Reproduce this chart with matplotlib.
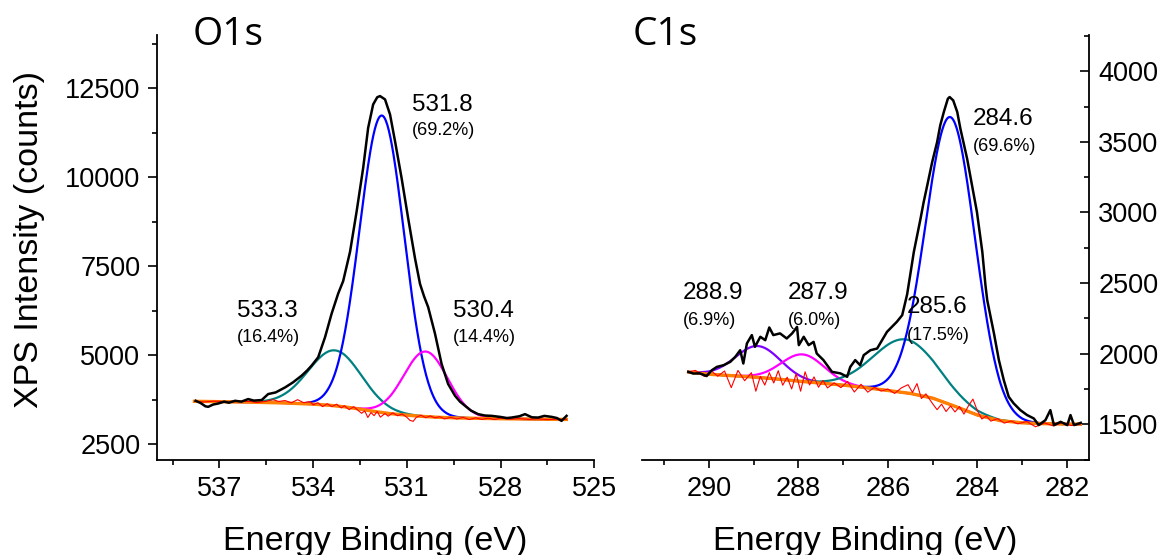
import numpy as np
import matplotlib
matplotlib.use("Agg")
import matplotlib.pyplot as plt
from matplotlib.ticker import MultipleLocator

plt.rcParams['font.family'] = ['Liberation Sans', 'DejaVu Sans']

# ---------------- O1s region ----------------
o_raw_e = [537.76, 537.6, 537.45, 537.36, 537.2, 537.04, 536.85, 536.7, 536.5, 536.3,
           536.08, 535.9, 535.65, 535.44, 535.2, 534.9, 534.65, 534.37, 534.2, 534.05,
           533.84, 533.62, 533.41, 533.2, 533.04, 532.82, 532.61, 532.4, 532.24, 532.08,
           531.95, 531.86, 531.7, 531.54, 531.38, 531.17, 530.96, 530.74, 530.58, 530.45,
           530.32, 530.1, 529.89, 529.68, 529.46, 529.3, 529.14, 528.95, 528.72, 528.5,
           528.29, 528.0, 527.8, 527.65, 527.4, 527.22, 527.0, 526.8, 526.6, 526.37,
           526.2, 526.05, 525.89]
o_raw_counts = [3715, 3650, 3560, 3545, 3610, 3638, 3690, 3660, 3715, 3690,
                3763, 3720, 3735, 3904, 3950, 4090, 4230, 4421, 4560, 4704,
                4938, 5503, 6164, 6729, 7080, 7904, 9034, 10260, 11390, 12048,
                12250, 12283, 12190, 11766, 11012, 9978, 8848, 7718, 7000, 6650,
                6350, 5599, 4752, 4186, 3856, 3690, 3574, 3440, 3339, 3300,
                3291, 3260, 3230, 3243, 3280, 3339, 3250, 3243, 3290, 3263,
                3230, 3150, 3291]

o_bg_e = [537.8, 537.0, 536.0, 535.0, 534.0, 533.5, 533.0, 532.5, 532.0, 531.5,
          531.0, 530.5, 530.0, 529.5, 529.0, 528.0, 527.0, 526.0, 525.9]
o_bg_counts = [3700, 3690, 3675, 3655, 3620, 3590, 3545, 3480, 3410, 3350,
               3310, 3275, 3250, 3235, 3225, 3210, 3200, 3190, 3190]

o_res_e = [537.8, 537.5, 537.2, 537.0, 536.7, 536.4, 536.0, 535.8, 535.5, 535.3,
           535.1, 534.9, 534.7, 534.5, 534.3, 534.1, 534.0, 533.85, 533.7, 533.55,
           533.4, 533.25, 533.1, 533.0, 532.85, 532.7, 532.6, 532.45, 532.35, 532.25,
           532.15, 532.05, 531.95, 531.85, 531.7, 531.6, 531.45, 531.3, 531.15, 531.0,
           530.9, 530.8, 530.7, 530.55, 530.4, 530.25, 530.1, 529.95, 529.8, 529.6,
           529.4, 529.2, 529.0, 528.8, 528.6, 528.4, 528.2, 528.0, 527.7, 527.4,
           527.1, 526.8, 526.5, 526.2, 525.9]
o_res_counts = [3700, 3682, 3702, 3700, 3676, 3696, 3695, 3666, 3700, 3747,
                3696, 3722, 3657, 3746, 3660, 3692, 3600, 3661, 3551, 3633,
                3551, 3619, 3515, 3575, 3466, 3546, 3473, 3363, 3429, 3245,
                3383, 3297, 3414, 3255, 3356, 3282, 3376, 3294, 3342, 3250,
                3163, 3136, 3249, 3309, 3240, 3287, 3235, 3268, 3205, 3248,
                3203, 3249, 3185, 3237, 3190, 3226, 3188, 3225, 3197, 3214,
                3191, 3207, 3185, 3197, 3190]

o_peak_labels = ['533.3', '531.8', '530.4']
o_peak_shares = ['(16.4%)', '(69.2%)', '(14.4%)']
o_peak_center = [533.3, 531.8, 530.4]
o_peak_height = [1560, 8350, 1830]
o_peak_fwhm = [2.0, 1.68, 1.65]

# ---------------- C1s region ----------------
c_raw_e = [290.46, 290.35, 290.2, 290.05, 289.93, 289.82, 289.67, 289.52, 289.41, 289.3,
           289.23, 289.15, 289.04, 288.97, 288.85, 288.74, 288.65, 288.56, 288.41, 288.26,
           288.14, 288.03, 287.99, 287.88, 287.77, 287.66, 287.59, 287.44, 287.25, 287.06,
           286.91, 286.84, 286.73, 286.62, 286.54, 286.39, 286.24, 286.02, 285.8, 285.68,
           285.57, 285.5, 285.42, 285.27, 285.2, 285.12, 285.01, 284.9, 284.83, 284.75,
           284.66, 284.62, 284.54, 284.45, 284.38, 284.23, 284.12, 284.01, 283.89, 283.82,
           283.78, 283.63, 283.52, 283.41, 283.3, 283.19, 283.04, 282.89, 282.74, 282.63,
           282.48, 282.37, 282.29, 282.14, 281.99, 281.92, 281.84, 281.69]
c_raw_counts = [1872, 1860, 1861, 1842, 1884, 1907, 1919, 1943, 1978, 2025,
                1931, 2073, 2132, 2049, 2120, 2096, 2186, 2132, 2144, 2108,
                2144, 2190, 2061, 2120, 2061, 2084, 2002, 1955, 1872, 1861,
                1837, 1907, 1955, 1919, 1990, 2025, 2037, 2155, 2226, 2273,
                2420, 2560, 2721, 2957, 3074, 3192, 3357, 3498, 3617, 3711,
                3805, 3817, 3793, 3711, 3593, 3381, 3192, 3003, 2721, 2485,
                2379, 2144, 1955, 1813, 1695, 1649, 1601, 1566, 1542, 1495,
                1530, 1601, 1495, 1518, 1495, 1566, 1495, 1511]

c_bg_e = [290.45, 290.0, 289.5, 289.0, 288.5, 288.0, 287.5, 287.0, 286.5, 286.0,
          285.5, 285.0, 284.5, 284.0, 283.5, 283.0, 282.5, 282.0, 281.7]
c_bg_counts = [1870, 1855, 1845, 1835, 1822, 1806, 1792, 1778, 1760, 1740,
               1719, 1686, 1628, 1566, 1527, 1511, 1505, 1502, 1502]

c_res_e = [290.45, 290.3, 290.1, 289.95, 289.8, 289.65, 289.5, 289.35, 289.2, 289.05,
           288.95, 288.85, 288.75, 288.65, 288.55, 288.45, 288.35, 288.25, 288.15, 288.05,
           287.95, 287.85, 287.75, 287.65, 287.55, 287.45, 287.35, 287.2, 287.05, 286.9,
           286.75, 286.6, 286.45, 286.3, 286.15, 286.0, 285.85, 285.7, 285.55, 285.45,
           285.35, 285.25, 285.15, 285.0, 284.9, 284.8, 284.7, 284.6, 284.5, 284.4,
           284.3, 284.2, 284.1, 284.0, 283.9, 283.8, 283.7, 283.55, 283.4, 283.25,
           283.1, 282.9, 282.7, 282.5, 282.3, 282.1, 281.9, 281.7]
c_res_counts = [1872, 1882, 1839, 1879, 1841, 1878, 1760, 1882, 1809, 1866,
                1735, 1840, 1778, 1866, 1793, 1880, 1777, 1834, 1751, 1858,
                1735, 1872, 1779, 1836, 1763, 1811, 1758, 1794, 1760, 1804,
                1729, 1784, 1728, 1762, 1736, 1750, 1719, 1758, 1781, 1726,
                1789, 1683, 1716, 1646, 1604, 1643, 1591, 1630, 1588, 1626,
                1573, 1631, 1679, 1596, 1538, 1560, 1523, 1541, 1509, 1524,
                1504, 1520, 1483, 1510, 1489, 1513, 1492, 1502]

c_peak_labels = ['288.9', '287.9', '285.6', '284.6']
c_peak_shares = ['(6.9%)', '(6.0%)', '(17.5%)', '(69.6%)']
c_peak_center = [288.9, 287.9, 285.6, 284.6]
c_peak_height = [222, 192, 378, 2035]
c_peak_fwhm = [1.18, 1.13, 1.70, 1.30]


def component(grid, bg_e, bg_counts, center, height, fwhm):
    """Gaussian fit component sitting on the Shirley background."""
    base = np.interp(grid, bg_e[::-1], bg_counts[::-1])
    sigma = fwhm / 2.3548
    return base + height * np.exp(-0.5 * ((grid - center) / sigma) ** 2)


fig = plt.figure(figsize=(11.67, 5.55), dpi=100)
ax1 = fig.add_axes([0.1345, 0.1712, 0.3748, 0.7657])
ax2 = fig.add_axes([0.5499, 0.1712, 0.3835, 0.7657])

TICK_FS = 19.5
LABEL_FS = 24.5
BIG_FS = 17.5
SMALL_FS = 13

# ---- O1s panel ----
o_grid = np.linspace(o_raw_e[0], o_raw_e[-1], 500)
o_colors = ['#008080', '#0000FF', '#FF00FF']
for c, h, w, col in zip(o_peak_center, o_peak_height, o_peak_fwhm, o_colors):
    ax1.plot(o_grid, component(o_grid, o_bg_e, o_bg_counts, c, h, w),
             color=col, lw=1.6, zorder=2)
ax1.plot(o_bg_e, o_bg_counts, color='#FF8000', lw=2.4, zorder=3)
ax1.plot(o_res_e, o_res_counts, color='#FF0000', lw=0.8, zorder=4)
ax1.plot(o_raw_e, o_raw_counts, color='black', lw=1.8, zorder=5)

o_text_pos = [(536.43, 6068, 5381), (530.85, 11859, 11201), (529.54, 6068, 5381)]
for lab, share, (x, y1, y2) in zip(o_peak_labels, o_peak_shares, o_text_pos):
    ax1.text(x, y1, lab, fontsize=BIG_FS, ha='left', va='baseline')
    ax1.text(x, y2, share, fontsize=SMALL_FS, ha='left', va='baseline')

ax1.set_xlim(539, 525)
ax1.set_ylim(2050, 14000)
ax1.spines['top'].set_visible(False)
ax1.spines['right'].set_visible(False)
ax1.xaxis.set_major_locator(MultipleLocator(3))
ax1.xaxis.set_minor_locator(MultipleLocator(1.5))
ax1.yaxis.set_major_locator(MultipleLocator(2500))
ax1.yaxis.set_minor_locator(MultipleLocator(1250))
ax1.tick_params(which='both', direction='out', width=1.2, labelsize=TICK_FS)
ax1.tick_params(axis='y', which='major', length=6.5, pad=5.5)
ax1.tick_params(axis='y', which='minor', length=3.5)
ax1.tick_params(axis='x', which='major', length=6, pad=5.5)
ax1.tick_params(axis='x', which='minor', length=3.5)

# ---- C1s panel ----
c_grid = np.linspace(c_raw_e[0], c_raw_e[-1], 500)
c_colors = ['#8000FF', '#FF00FF', '#008080', '#0000FF']
for c, h, w, col in zip(c_peak_center, c_peak_height, c_peak_fwhm, c_colors):
    ax2.plot(c_grid, component(c_grid, c_bg_e, c_bg_counts, c, h, w),
             color=col, lw=1.6, zorder=2)
ax2.plot(c_bg_e, c_bg_counts, color='#FF8000', lw=2.4, zorder=3)
ax2.plot(c_res_e, c_res_counts, color='#FF0000', lw=0.8, zorder=4)
ax2.plot(c_raw_e, c_raw_counts, color='black', lw=1.8, zorder=5)

c_text_pos = [(290.59, 2391, 2202), (288.24, 2391, 2202), (285.57, 2285, 2096),
              (284.10, 3617, 3433)]
for lab, share, (x, y1, y2) in zip(c_peak_labels, c_peak_shares, c_text_pos):
    ax2.text(x, y1, lab, fontsize=BIG_FS, ha='left', va='baseline', zorder=6)
    ax2.text(x, y2, share, fontsize=SMALL_FS, ha='left', va='baseline', zorder=6)

ax2.set_xlim(291.5, 281.5)
ax2.set_ylim(1248, 4256)
ax2.spines['top'].set_visible(False)
ax2.spines['left'].set_visible(False)
ax2.yaxis.tick_right()
ax2.xaxis.set_major_locator(MultipleLocator(2))
ax2.xaxis.set_minor_locator(MultipleLocator(1))
ax2.yaxis.set_major_locator(MultipleLocator(500))
ax2.yaxis.set_minor_locator(MultipleLocator(250))
ax2.tick_params(which='both', width=1.2, labelsize=TICK_FS)
ax2.tick_params(axis='y', which='major', direction='in', length=6.5, pad=6.5)
ax2.tick_params(axis='y', which='minor', direction='in', length=3.5)
ax2.tick_params(axis='x', which='major', direction='out', length=6, pad=5.5)
ax2.tick_params(axis='x', which='minor', direction='out', length=3.5)

for ax in (ax1, ax2):
    for s in ax.spines.values():
        s.set_linewidth(1.3)

# titles and axis labels
fig.text(193 / 1167, 1 - 45 / 555, 'O1s', fontsize=28, family=['Open Sans', 'DejaVu Sans'],
         ha='left', va='baseline')
fig.text(633 / 1167, 1 - 45 / 555, 'C1s', fontsize=28, family=['Open Sans', 'DejaVu Sans'],
         ha='left', va='baseline')
fig.text(30 / 1167, 1 - 240 / 555, 'XPS Intensity (counts)', fontsize=LABEL_FS,
         rotation=90, ha='center', va='center')
fig.text(375 / 1167, 1 - 550 / 555, 'Energy Binding (eV)', fontsize=LABEL_FS,
         ha='center', va='baseline')
fig.text(865 / 1167, 1 - 550 / 555, 'Energy Binding (eV)', fontsize=LABEL_FS,
         ha='center', va='baseline')

fig.savefig('out.png', dpi=100)
